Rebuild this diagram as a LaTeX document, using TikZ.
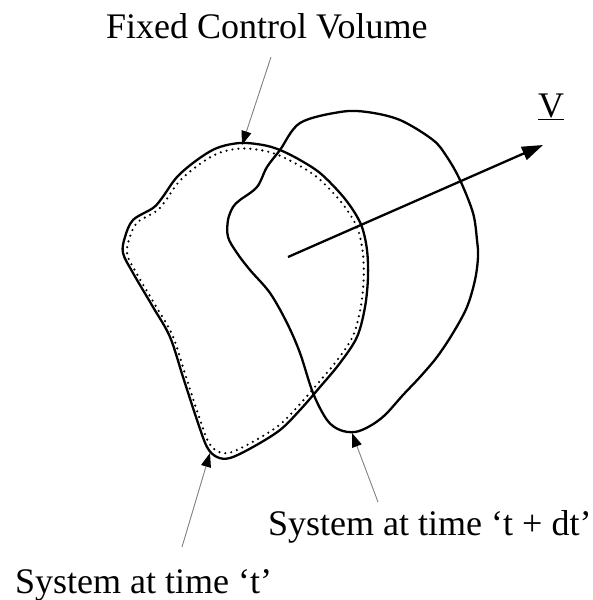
\documentclass[tikz,border=0pt]{standalone}
\usepackage{fontspec}
\setmainfont{Liberation Serif}
\usetikzlibrary{arrows.meta}

\begin{document}
\begin{tikzpicture}[x=1pt,y=-1pt,
txt/.style={font=\fontsize{36}{40}\selectfont,inner sep=0pt,anchor=base west},
outline/.style={line width=2.3pt,line join=round},
cvdots/.style={line width=2.4pt,dash pattern=on 0pt off 6pt,line cap=round},
pointer/.style={gray,line width=0.9pt,-{Triangle[length=14pt,width=10pt,color=black]}},
vel/.style={line width=2.3pt,-{Triangle[length=21pt,width=14pt]}}
]
\useasboundingbox (0,0) rectangle (593,600);
% fixed control volume (solid) and system at t (dotted, just inside)
\foreach \sty/\fac in {outline/1,cvdots/0.965}
\draw[\sty,scale around={\fac:(245,300)}] plot[smooth cycle,tension=0.55] coordinates {
(240,143) (263,145) (280,150) (300,160) (320,173) (340,193) (353,210)
(362,227) (367,250) (368,277) (365,307) (357,337) (340,363) (320,387)
(300,410) (280,430) (253,447) (230,458) (217,457) (207,447) (197,420)
(183,377) (170,337) (153,307) (133,273) (123,253) (125,237) (133,220)
(153,208) (162,198) (177,177) (197,160) (217,148)};
% system at t + dt
\draw[outline] plot[smooth cycle,tension=0.55] coordinates {
(280,150) (267,167) (257,187) (240,200) (233,207) (228,220) (228,237)
(237,253) (250,270) (270,293) (287,323) (300,353) (313,393) (327,420)
(340,430) (355,432) (370,426) (385,415) (403,395) (420,377) (437,357)
(453,333) (467,307) (475,280) (478,257) (477,240) (473,213) (460,180)
(447,157) (433,140) (400,120) (367,112) (340,112) (300,123)};

\node[txt] (fcv)  at (106,38)  {Fixed Control Volume};
\node[txt] (vlab) at (538,117) {\underline{V}};
\node[txt] (sysb) at (268,535) {System at time `t + dt'};
\node[txt] (sysa) at (15,593)  {System at time `t'};

\coordinate (cvfrom) at (271,57);   \coordinate (cvtop) at (242,145);
\coordinate (safrom) at (182,547);  \coordinate (satip) at (210,453);
\coordinate (sbfrom) at (378,502);  \coordinate (sbtip) at (352,433);
\coordinate (ctr) at (288,257);     \coordinate (vtip) at (543,145);

\foreach \a/\b in {cvfrom/cvtop,safrom/satip,sbfrom/sbtip}
\draw[pointer] (\a) -- (\b);
\draw[vel] (ctr) -- (vtip);
\end{tikzpicture}
\end{document}
